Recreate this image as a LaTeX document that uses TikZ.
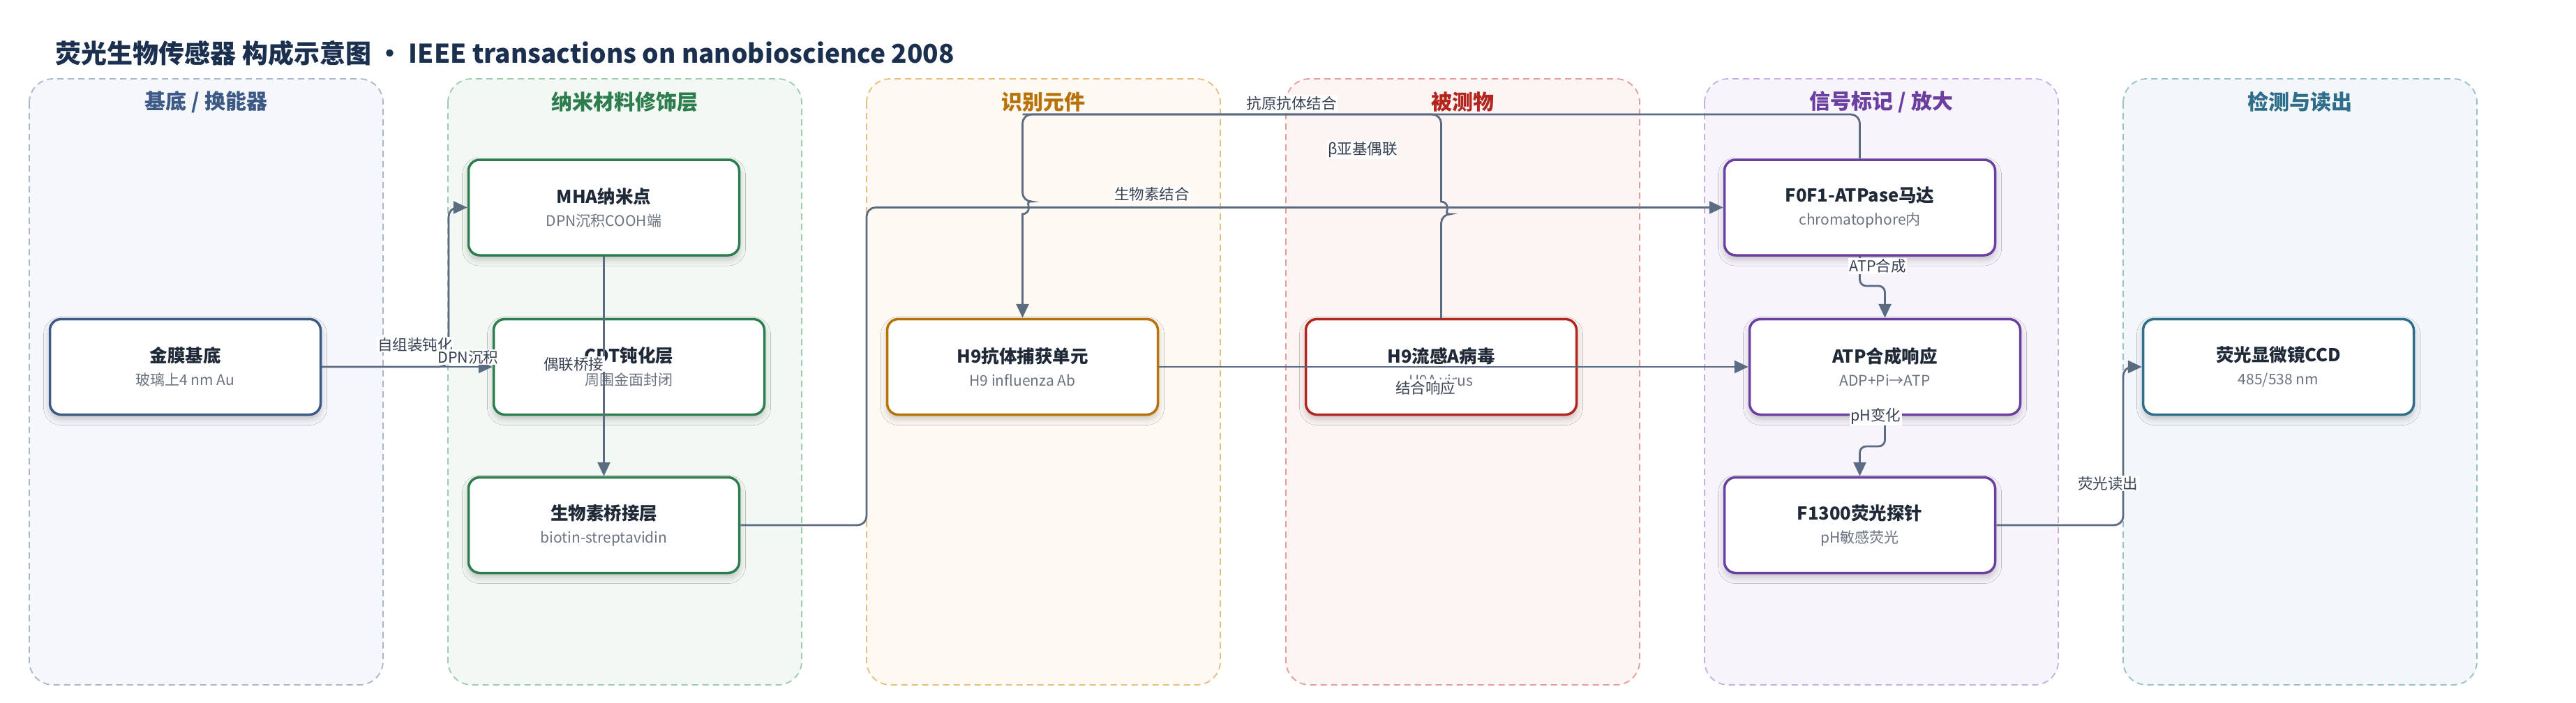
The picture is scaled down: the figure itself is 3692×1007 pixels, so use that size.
\documentclass[tikz,border=0pt]{standalone}
\usepackage{fontspec}
\setmainfont{Noto Sans CJK SC}
\usepackage{tikz}
\usetikzlibrary{arrows.meta,shadows.blur}

\definecolor{edgec}{HTML}{5A6B82}
\definecolor{titlec}{HTML}{1B2F4F}
\definecolor{inkc}{HTML}{1F2937}
\definecolor{subc}{HTML}{6B7280}
\definecolor{labc}{HTML}{374151}
\definecolor{subsA}{HTML}{3D5A86}
\definecolor{subsAf}{HTML}{F5F7FB}
\definecolor{subsAb}{HTML}{A9B6CC}
\definecolor{nanoA}{HTML}{2E7D4F}
\definecolor{nanoAf}{HTML}{F2F8F4}
\definecolor{nanoAb}{HTML}{9FCBAE}
\definecolor{recoA}{HTML}{B8720A}
\definecolor{recoAf}{HTML}{FEF9F2}
\definecolor{recoAb}{HTML}{E6BE7E}
\definecolor{anaA}{HTML}{B3261E}
\definecolor{anaAf}{HTML}{FDF4F4}
\definecolor{anaAb}{HTML}{E59C9C}
\definecolor{sigA}{HTML}{6B3FA0}
\definecolor{sigAf}{HTML}{F7F4FC}
\definecolor{sigAb}{HTML}{C7AEE3}
\definecolor{detA}{HTML}{2F6E8A}
\definecolor{detAf}{HTML}{F3F7F9}
\definecolor{detAb}{HTML}{98BFCC}

\newcommand\subtxt[1]{{\fontsize{21}{24}\selectfont\color{subc}#1}}

\begin{document}
\begin{tikzpicture}[x=1pt,y=-1pt,
  lane/.style={draw=#1, dash pattern=on 9pt off 6pt, line width=1.8pt, rounded corners=34pt},
  head/.style={font=\fontsize{30}{34}\selectfont\bfseries, text=#1},
  box/.style={draw=#1, line width=3.5pt, fill=white, rounded corners=16pt,
    minimum width=388pt, minimum height=137pt, align=center, text=inkc,
    font=\fontsize{25.5}{33}\selectfont,
    blur shadow={shadow xshift=0pt, shadow yshift=-6pt, shadow blur radius=9pt, shadow opacity=22}},
  flow/.style={draw=edgec, line width=2.8pt, rounded corners=13pt, -{Triangle[length=20pt,width=18pt]}},
  link/.style={draw=edgec, line width=2.8pt, rounded corners=13pt},
  lab/.style={fill=white, inner sep=1.5pt, text=labc, font=\fontsize{21.5}{24}\selectfont}]

  \fill[white] (0,0) rectangle (3692,1007);
  \useasboundingbox (0,0) rectangle (3692,1007);

  \draw (76,76) node[anchor=west, text=titlec, font=\fontsize{37}{44}\selectfont\bfseries] (title) {荧光生物传感器 构成示意图 • IEEE transactions on nanobioscience 2008};

  \draw[lane=subsAb, fill=subsAf] (42,113) rectangle (549,982);
  \draw[lane=nanoAb, fill=nanoAf] (642,113) rectangle (1149,982);
  \draw[lane=recoAb, fill=recoAf] (1242,113) rectangle (1749,982);
  \draw[lane=anaAb, fill=anaAf] (1843,113) rectangle (2350,982);
  \draw[lane=sigAb, fill=sigAf] (2443,113) rectangle (2950,982);
  \draw[lane=detAb, fill=detAf] (3043,113) rectangle (3550,982);

  \draw (295.5,146) node[head=subsA] (hsubs) {基底 / 换能器};
  \draw (895.5,146) node[head=nanoA] (hnano) {纳米材料修饰层};
  \draw (1495.5,146) node[head=recoA] (hreco) {识别元件};
  \draw (2096.5,146) node[head=anaA] (hana) {被测物};
  \draw (2696.5,146) node[head=sigA] (hsig) {信号标记 / 放大};
  \draw (3296.5,146) node[head=detA] (hdet) {检测与读出};

  \draw (265.5,526) node[box=subsA] (jinmo) {\textbf{金膜基底}\\\subtxt{玻璃上4 nm Au}};
  \draw (865.5,297.5) node[box=nanoA] (mha) {\textbf{MHA纳米点}\\\subtxt{DPN沉积COOH端}};
  \draw (901.5,526) node[box=nanoA] (cdt) {\textbf{CDT钝化层}\\\subtxt{周围金面封闭}};
  \draw (865.5,753) node[box=nanoA] (biotin) {\textbf{生物素桥接层}\\\subtxt{biotin-streptavidin}};
  \draw (1465.5,526) node[box=recoA] (ab) {\textbf{H9抗体捕获单元}\\\subtxt{H9 influenza Ab}};
  \draw (2065.5,526) node[box=anaA] (virus) {\textbf{H9流感A病毒}\\\subtxt{H9A virus}};
  \draw (2665.5,297.5) node[box=sigA] (fof) {\textbf{F0F1-ATPase马达}\\\subtxt{chromatophore内}};
  \draw (2701.5,526) node[box=sigA] (atp) {\textbf{ATP合成响应}\\\subtxt{ADP+Pi→ATP}};
  \draw (2665.5,753) node[box=sigA] (probe) {\textbf{F1300荧光探针}\\\subtxt{pH敏感荧光}};
  \draw (3265.5,526) node[box=detA] (ccd) {\textbf{荧光显微镜CCD}\\\subtxt{485/538 nm}};

  \draw[flow] (jinmo.east) -- (643,526) |- (mha.west);
  \draw[flow] (jinmo.east) -- (cdt.west);
  \draw[flow] (mha.south) -- (biotin.north);
  \draw[flow] (biotin.east) -- (1242,753) |- (fof.west);
  \draw[link] (fof.north) -- (2665.5,164) -- (1465.5,164);
  \draw[flow] (virus.north) -- (2065.5,307) [sharp corners] arc[start angle=90, end angle=-90, radius=9] [rounded corners=13pt] -- (2065.5,164) -- (1465.5,164) -- (1465.5,289) [sharp corners] arc[start angle=-90, end angle=90, radius=9] -- (ab.north);
  \draw[flow] (ab.east) -- (atp.west);
  \draw[flow, rounded corners=9pt] (fof.south) -- (2665.5,410) -- (2701.5,410) -- (atp.north);
  \draw[flow, rounded corners=9pt] (atp.south) -- (2701.5,640) -- (2665.5,640) -- (probe.north);
  \draw[flow] (probe.east) -- (3043,753) |- (ccd.west);

  \draw (595,494) node[lab] (lself) {自组装钝化};
  \draw (671,512) node[lab] (ldpn) {DPN沉积};
  \draw (822,522) node[lab] (lcoup) {偶联桥接};
  \draw (1651,278) node[lab] (lbio) {生物素结合};
  \draw (1851,148) node[lab] (lanti) {抗原抗体结合};
  \draw (1953,215) node[lab] (lbeta) {β亚基偶联};
  \draw (2043,556) node[lab] (lbind) {结合响应};
  \draw (2691,381) node[lab] (latp) {ATP合成};
  \draw (2688,597) node[lab] (lph) {pH变化};
  \draw (3021,693) node[lab] (lread) {荧光读出};

\end{tikzpicture}
\end{document}
